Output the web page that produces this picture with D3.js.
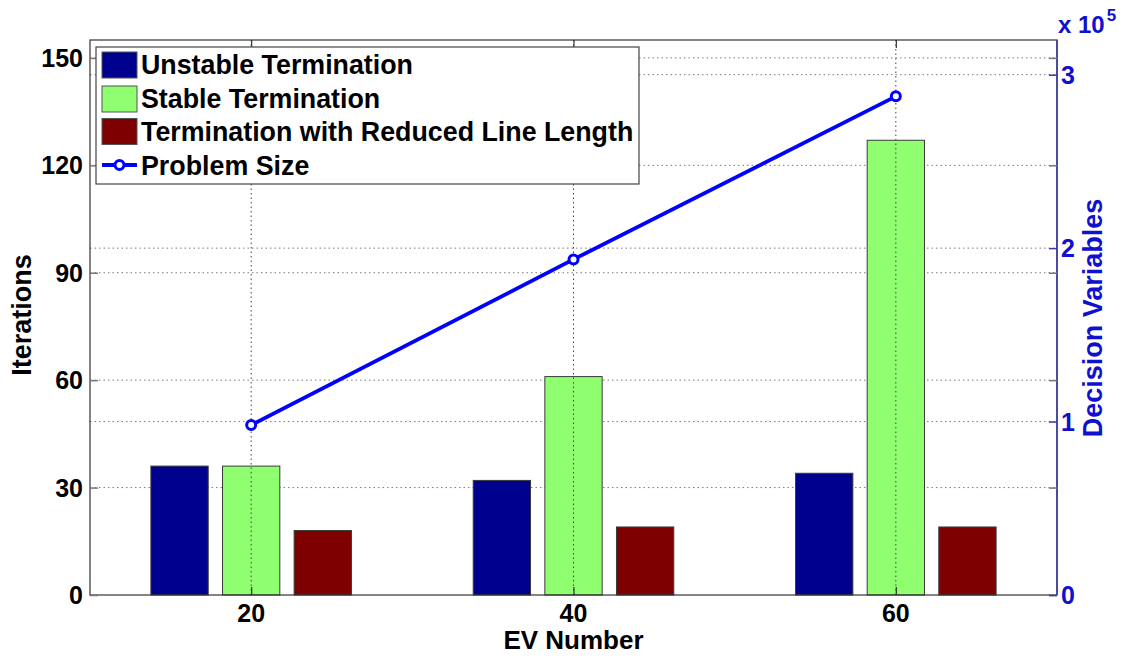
<!DOCTYPE html>
<html>
<head>
<meta charset="utf-8">
<script src="https://cdn.jsdelivr.net/npm/d3@7/dist/d3.min.js"></script>
<style>
  html, body { margin: 0; padding: 0; background: #fff; }
  svg { display: block; }
  text { font-family: "Liberation Sans", Arial, sans-serif; font-weight: bold; }
</style>
</head>
<body>
<svg id="chart" width="1122" height="656"></svg>
<script>
// EV fleet sizes on the x axis
const evNumbers = [20, 40, 60];
// Iterations per termination type
const unstableTermination = [36, 32, 34];
const stableTermination = [36, 61, 127];
const reducedLineTermination = [18, 19, 19];
// Decision variables (problem size)
const problemSize = [98000, 193500, 287500];

const seriesNames = ["Unstable Termination", "Stable Termination", "Termination with Reduced Line Length"];
const seriesColors = ["#00008f", "#8fff6f", "#7f0000"];
const lineName = "Problem Size";
const lineColor = "#0000ff";

const leftTicks = [0, 30, 60, 90, 120, 150];
const rightTicks = [0, 100000, 200000, 300000];
const xTicks = [20, 40, 60];

const plot = { left: 90, right: 1057, top: 40, bottom: 595 };

const svg = d3.select("#chart");

const x = d3.scaleLinear().domain([10, 70]).range([plot.left, plot.right]);
const yL = d3.scaleLinear().domain([0, 155]).range([plot.bottom, plot.top]);
const yR = d3.scaleLinear().domain([0, 320000]).range([plot.bottom, plot.top]);

const gridColor = "#7a7a7a";
const gridDash = "1.5,3";
const blueText = "#1010d0";

// horizontal grid lines (left and right tick positions)
const grid = svg.append("g");
grid.selectAll(".gl").data(leftTicks.filter(d => d > 0)).join("line")
  .attr("x1", plot.left).attr("x2", plot.right)
  .attr("y1", d => yL(d)).attr("y2", d => yL(d))
  .attr("stroke", gridColor).attr("stroke-dasharray", gridDash).attr("stroke-width", 1);
grid.selectAll(".gr").data(rightTicks.filter(d => d > 0)).join("line")
  .attr("x1", plot.left).attr("x2", plot.right)
  .attr("y1", d => yR(d)).attr("y2", d => yR(d))
  .attr("stroke", gridColor).attr("stroke-dasharray", gridDash).attr("stroke-width", 1);

// grouped bars
const series = [unstableTermination, stableTermination, reducedLineTermination];
const groupSpan = 20 * 2 / 3;
const slot = groupSpan / series.length;
const barW = slot * 0.8;
series.forEach((vals, si) => {
  const off = (si - (series.length - 1) / 2) * slot;
  svg.append("g").selectAll("rect").data(vals).join("rect")
    .attr("x", (d, i) => x(evNumbers[i] + off - barW / 2))
    .attr("width", x(barW) - x(0))
    .attr("y", d => yL(d))
    .attr("height", d => yL(0) - yL(d))
    .attr("fill", seriesColors[si])
    .attr("stroke", "#3a3a3a").attr("stroke-width", 1);
});

// vertical grid lines, drawn over the bars
svg.append("g").selectAll("line").data(xTicks).join("line")
  .attr("x1", d => x(d)).attr("x2", d => x(d))
  .attr("y1", plot.top).attr("y2", plot.bottom)
  .attr("stroke", "#444").attr("stroke-dasharray", gridDash).attr("stroke-width", 1);

// problem size line
const line = d3.line().x((d, i) => x(evNumbers[i])).y(d => yR(d));
svg.append("path").datum(problemSize)
  .attr("d", line).attr("fill", "none")
  .attr("stroke", lineColor).attr("stroke-width", 3.8);
svg.append("g").selectAll("circle").data(problemSize).join("circle")
  .attr("cx", (d, i) => x(evNumbers[i])).attr("cy", d => yR(d)).attr("r", 4.5)
  .attr("fill", "#fff").attr("stroke", lineColor).attr("stroke-width", 3);

// axes box
const axisColor = "#333";
svg.append("rect")
  .attr("x", plot.left).attr("y", plot.top)
  .attr("width", plot.right - plot.left).attr("height", plot.bottom - plot.top)
  .attr("fill", "none").attr("stroke", axisColor).attr("stroke-width", 1.2);
svg.append("line")
  .attr("x1", plot.right).attr("x2", plot.right)
  .attr("y1", plot.top).attr("y2", plot.bottom)
  .attr("stroke", "#3a3aa8").attr("stroke-width", 1.5);

// left axis (ticks inward, mirrored on right)
const tickLen = 8;
svg.append("g").attr("transform", `translate(${plot.left},0)`)
  .call(d3.axisRight(yL).tickValues(leftTicks).tickSize(tickLen).tickFormat(""))
  .call(g => g.select(".domain").remove())
  .call(g => g.selectAll("line").attr("stroke", "#777").attr("stroke-width", 1.5));
svg.append("g").attr("transform", `translate(${plot.right},0)`)
  .call(d3.axisLeft(yL).tickValues(leftTicks).tickSize(tickLen).tickFormat(""))
  .call(g => g.select(".domain").remove())
  .call(g => g.selectAll("line").attr("stroke", "#777").attr("stroke-width", 1.5));
svg.append("g").selectAll("text").data(leftTicks).join("text")
  .attr("x", plot.left - 7).attr("y", d => yL(d)).attr("dy", "0.36em")
  .attr("text-anchor", "end").attr("font-size", 25).attr("fill", "#000")
  .text(d => d);

// right axis
svg.append("g").attr("transform", `translate(${plot.right},0)`)
  .call(d3.axisLeft(yR).tickValues(rightTicks).tickSize(tickLen).tickFormat(""))
  .call(g => g.select(".domain").remove())
  .call(g => g.selectAll("line").attr("stroke", "#3a3aa8").attr("stroke-width", 1.5));
svg.append("g").selectAll("text").data(rightTicks).join("text")
  .attr("x", plot.right + 4).attr("y", d => yR(d)).attr("dy", "0.36em")
  .attr("text-anchor", "start").attr("font-size", 25).attr("fill", blueText)
  .text(d => d / 100000);
const mult = svg.append("text").attr("x", plot.right + 1).attr("y", 33)
  .attr("font-size", 24).attr("fill", blueText);
mult.append("tspan").text("x 10");
mult.append("tspan").attr("dx", 2).attr("dy", -12).attr("font-size", 17).text("5");

// x axis
svg.append("g").attr("transform", `translate(0,${plot.bottom})`)
  .call(d3.axisTop(x).tickValues(xTicks).tickSize(tickLen).tickFormat(""))
  .call(g => g.select(".domain").remove())
  .call(g => g.selectAll("line").attr("stroke", axisColor).attr("stroke-width", 1.2));
svg.append("g").attr("transform", `translate(0,${plot.top})`)
  .call(d3.axisBottom(x).tickValues(xTicks).tickSize(tickLen).tickFormat(""))
  .call(g => g.select(".domain").remove())
  .call(g => g.selectAll("line").attr("stroke", axisColor).attr("stroke-width", 1.2));
svg.append("g").selectAll("text").data(xTicks).join("text")
  .attr("x", d => x(d)).attr("y", plot.bottom + 27)
  .attr("text-anchor", "middle").attr("font-size", 25).attr("fill", "#000")
  .text(d => d);

// axis titles
svg.append("text").attr("x", x(40)).attr("y", 649)
  .attr("text-anchor", "middle").attr("font-size", 26).text("EV Number");
svg.append("text").attr("transform", `translate(31,315) rotate(-90)`)
  .attr("text-anchor", "middle").attr("font-size", 27).text("Iterations");
svg.append("text").attr("transform", `translate(1102,318) rotate(-90)`)
  .attr("text-anchor", "middle").attr("font-size", 27).attr("fill", blueText).text("Decision Variables");

// legend
const lg = svg.append("g");
lg.append("rect").attr("x", 96).attr("y", 47).attr("width", 543).attr("height", 137)
  .attr("fill", "#fff").attr("stroke", "#444").attr("stroke-width", 1.2);
const swatchY = [65, 99, 131.5, 165];
const textBase = [74, 108, 141, 175];
seriesNames.forEach((name, i) => {
  lg.append("rect").attr("x", 102).attr("y", swatchY[i] - 13).attr("width", 35).attr("height", 26)
    .attr("fill", seriesColors[i]).attr("stroke", "#555").attr("stroke-width", 1);
  lg.append("text").attr("x", 141).attr("y", textBase[i])
    .attr("font-size", 26.8).text(name);
});
lg.append("line").attr("x1", 102).attr("x2", 137).attr("y1", swatchY[3]).attr("y2", swatchY[3])
  .attr("stroke", lineColor).attr("stroke-width", 3.8);
lg.append("circle").attr("cx", 119.5).attr("cy", swatchY[3]).attr("r", 4.5)
  .attr("fill", "#fff").attr("stroke", lineColor).attr("stroke-width", 3);
lg.append("text").attr("x", 141).attr("y", textBase[3])
  .attr("font-size", 26.8).text(lineName);
</script>
</body>
</html>
